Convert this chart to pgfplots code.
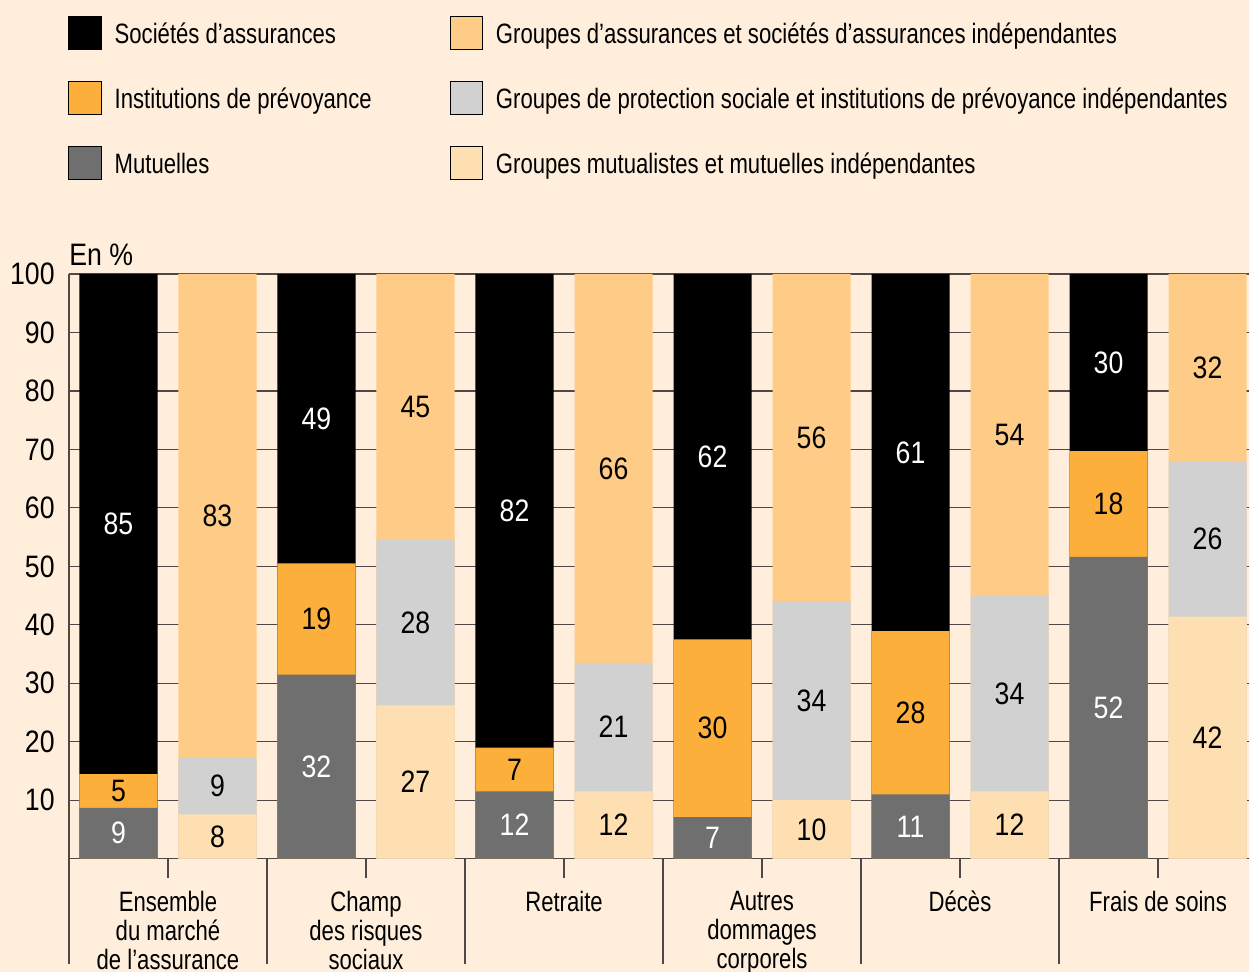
\documentclass[border=0pt]{standalone}
\usepackage{fontspec}
\setmainfont[FakeStretch=0.79]{Liberation Sans}
\newfontfamily\numfont[FakeStretch=0.86]{Liberation Sans}
\usepackage{pgfplots}
\pgfplotsset{compat=1.18}

\definecolor{bgcol}{HTML}{FEEEDB}
\definecolor{cSoc}{HTML}{000000}
\definecolor{cInst}{HTML}{FDAF3B}
\definecolor{cMut}{HTML}{6F6F6F}
\definecolor{cGass}{HTML}{FECC87}
\definecolor{cGprot}{HTML}{D1D1D1}
\definecolor{cGmut}{HTML}{FEDFB1}
\definecolor{gridcol}{HTML}{504846}

\newcommand{\txtfont}{\fontsize{14}{14.5}\selectfont}
\newcommand{\nfont}{\numfont\fontsize{15.5}{18}\selectfont}

\begin{document}
\begin{tikzpicture}[font=\txtfont]
\useasboundingbox (-34.5pt,-56.65pt) rectangle (590pt,429.35pt);
\fill[bgcol] (-34.5pt,-56.65pt) rectangle (590pt,429.35pt);
\begin{axis}[
    name=ax,
    at={(0pt,0pt)}, anchor=south west,
    scale only axis,
    width=590pt, height=292.35pt,
    xmin=-0.5, xmax=5.4596,
    ymin=0, ymax=100,
    axis lines*=left,
    axis line style={draw=gridcol, line width=0.8pt},
    /pgf/number format/assume math mode=true,
    ytick={10,20,...,100},
    ymajorgrids,
    grid style={draw=gridcol, line width=0.6pt},
    yticklabel style={font=\nfont, inner sep=0pt, xshift=2.5pt},
    ytick style={draw=none},
    tick align=outside,
    major tick length=9.5pt,
    minor tick length=52.5pt,
    xtick={0,1,2,3,4,5},
    minor xtick={-0.5,0.5,...,4.5},
    xticklabels={Ensemble\\du marché\\de l’assurance, Champ\\des risques\\sociaux, Retraite, Autres\\dommages\\corporels, Décès, Frais de soins},
    xtick style={draw=gridcol, line width=0.8pt},
    xticklabel style={font=\txtfont, align=center, anchor=north, inner sep=0pt, yshift=-6.5pt},
    bar width=0.394,
    legend columns=2,
    legend cell align=left,
    legend image code/.code={\fill[#1] (0pt,-8.125pt) rectangle (16.25pt,8.125pt); \path (22.75pt,0pt);},
    legend style={at={(axis description cs:-0.00085,1.4412)}, anchor=north west,
        draw=none, fill=none, inner sep=0pt, column sep=0pt, row sep=15.75pt,
        font=\txtfont, nodes={inner sep=0pt, yshift=-1pt}},
]
% bars (tops of each segment, drawn from the top segment down)
\addplot[ybar, bar shift=0pt, fill=cSoc, draw=none, forget plot] coordinates {
  (-0.25,100) (0.75,100) (1.75,100) (2.75,100) (3.75,100) (4.75,100)};
\addplot[ybar, bar shift=0pt, fill=cInst, draw=none, forget plot] coordinates {
  (-0.25,14.45) (0.75,50.5) (1.75,19.0) (2.75,37.5) (3.75,38.9) (4.75,69.7)};
\addplot[ybar, bar shift=0pt, fill=cMut, draw=none, forget plot] coordinates {
  (-0.25,8.7) (0.75,31.5) (1.75,11.5) (2.75,7.1) (3.75,11.0) (4.75,51.6)};
\addplot[ybar, bar shift=0pt, fill=cGass, draw=none, forget plot] coordinates {
  (0.25,100) (1.25,100) (2.25,100) (3.25,100) (4.25,100) (5.25,100)};
\addplot[ybar, bar shift=0pt, fill=cGprot, draw=none, forget plot] coordinates {
  (0.25,17.2) (1.25,54.5) (2.25,33.5) (3.25,44.0) (4.25,45.0) (5.25,68.0)};
\addplot[ybar, bar shift=0pt, fill=cGmut, draw=none, forget plot] coordinates {
  (0.25,7.6) (1.25,26.2) (2.25,11.5) (3.25,10.0) (4.25,11.5) (5.25,41.4)};

% value labels, white on dark segments
\addplot[draw=none, forget plot, nodes near coords, point meta=explicit symbolic,
  nodes near coords style={font=\nfont, text=white, anchor=center}] coordinates {
  (-0.25,57.2)[85] (0.75,75.25)[49] (1.75,59.5)[82] (2.75,68.75)[62] (3.75,69.45)[61] (4.75,84.85)[30]
  (-0.25,4.35)[9] (0.75,15.75)[32] (1.75,5.75)[12] (2.75,3.55)[7] (3.75,5.5)[11] (4.75,25.8)[52]};
% value labels, black on light segments
\addplot[draw=none, forget plot, nodes near coords, point meta=explicit symbolic,
  nodes near coords style={font=\nfont, text=black, anchor=center}] coordinates {
  (-0.25,11.6)[5] (0.75,41.0)[19] (1.75,15.25)[7] (2.75,22.3)[30] (3.75,24.95)[28] (4.75,60.65)[18]
  (0.25,58.6)[83] (1.25,77.25)[45] (2.25,66.75)[66] (3.25,72.0)[56] (4.25,72.5)[54] (5.25,84.0)[32]
  (0.25,12.4)[9] (1.25,40.35)[28] (2.25,22.5)[21] (3.25,27.0)[34] (4.25,28.25)[34] (5.25,54.7)[26]
  (0.25,3.8)[8] (1.25,13.1)[27] (2.25,5.75)[12] (3.25,5.0)[10] (4.25,5.75)[12] (5.25,20.7)[42]};

\addlegendimage{fill=cSoc}
\addlegendentry{\makebox[167.5pt][l]{Sociétés d’assurances}}
\addlegendimage{fill=cGass}
\addlegendentry{Groupes d’assurances et sociétés d’assurances indépendantes}
\addlegendimage{fill=cInst}
\addlegendentry{\makebox[167.5pt][l]{Institutions de prévoyance}}
\addlegendimage{fill=cGprot}
\addlegendentry{Groupes de protection sociale et institutions de prévoyance indépendantes}
\addlegendimage{fill=cMut}
\addlegendentry{\makebox[167.5pt][l]{Mutuelles}}
\addlegendimage{fill=cGmut}
\addlegendentry{Groupes mutualistes et mutuelles indépendantes}
\end{axis}
\node[anchor=base west, inner sep=0pt, font=\nfont] at ([yshift=4pt]ax.north west) {En \%};
\end{tikzpicture}
\end{document}
